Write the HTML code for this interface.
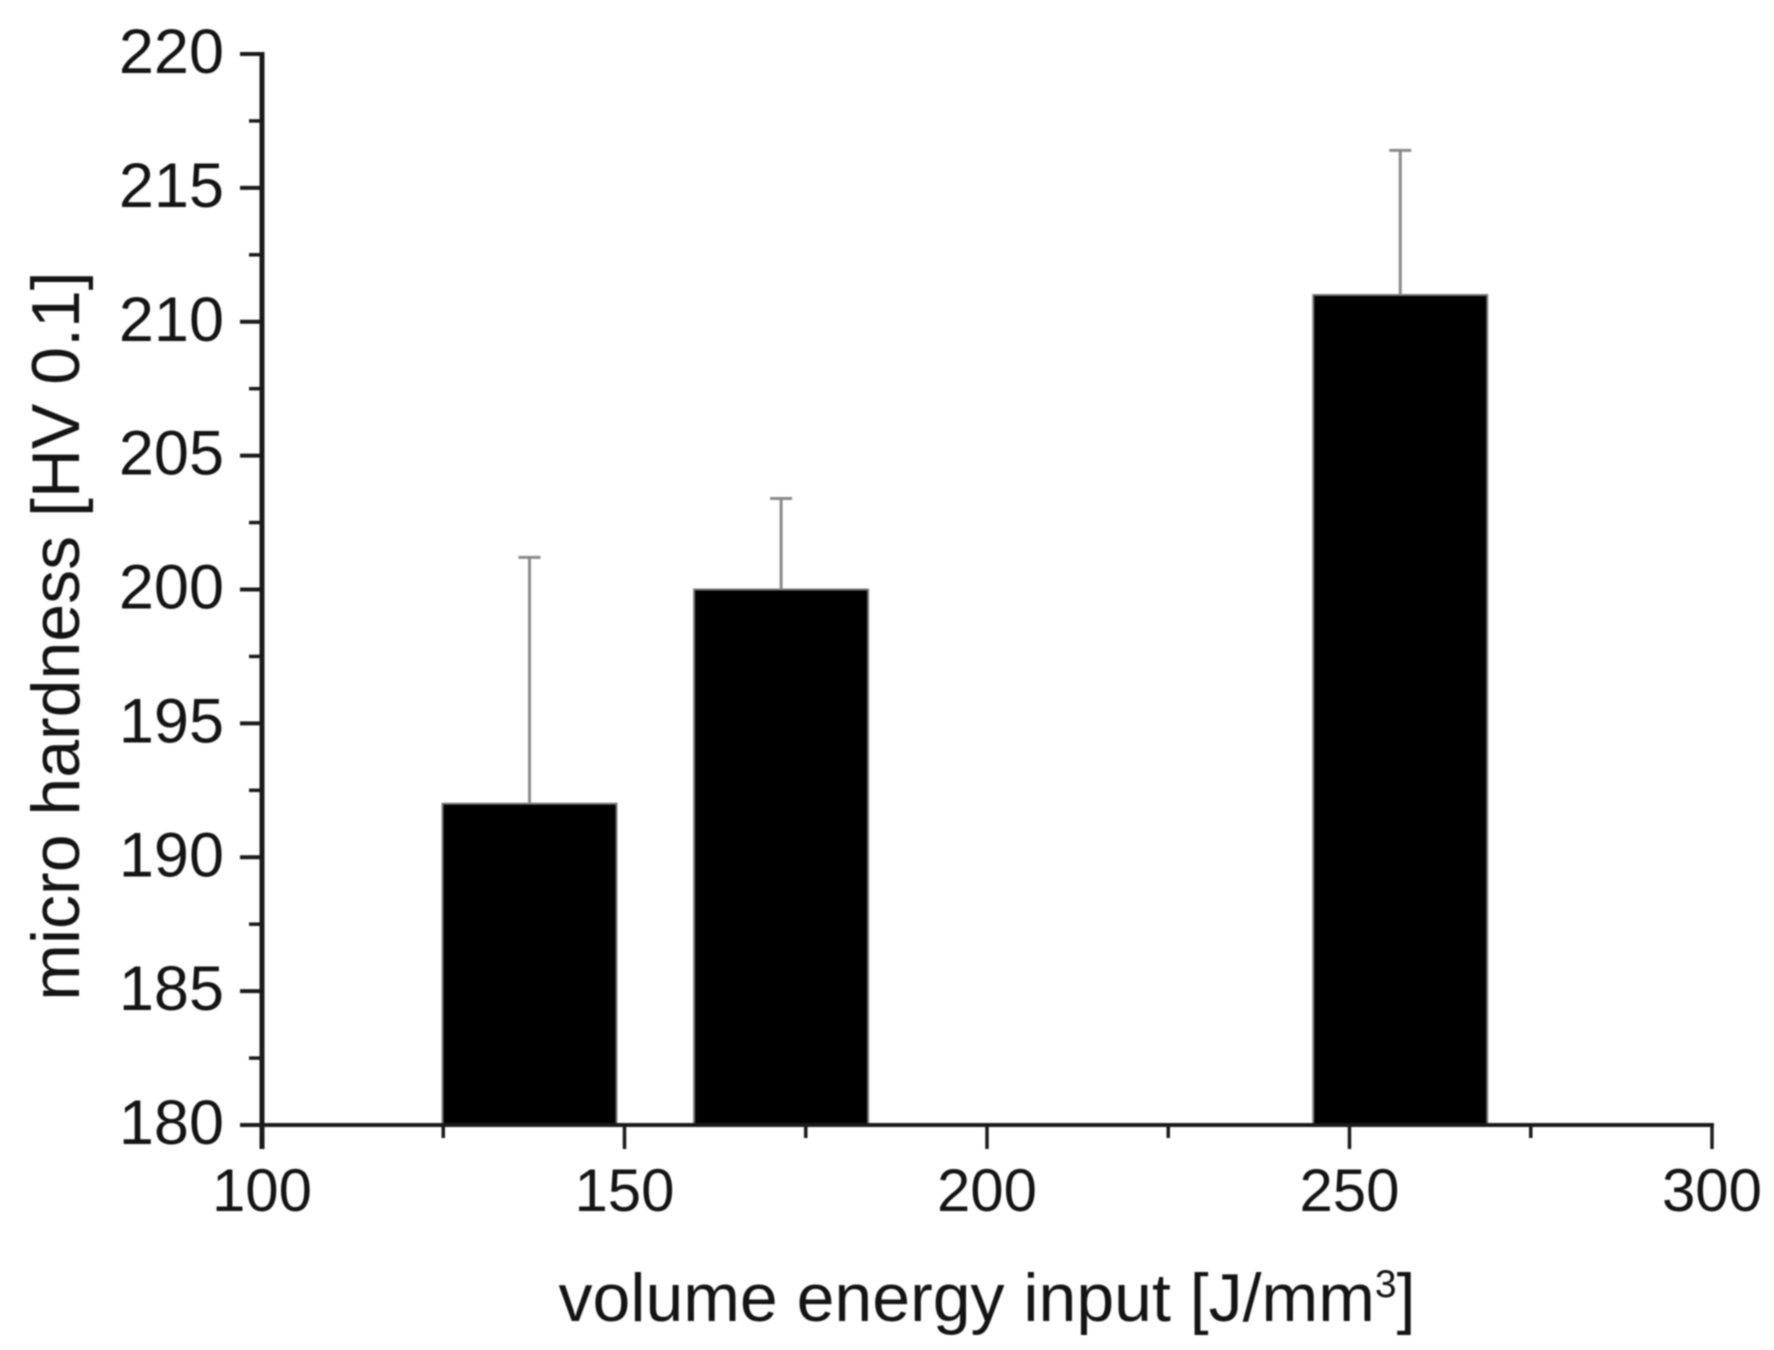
<!DOCTYPE html>
<html lang="en">
<head>
<meta charset="utf-8">
<title>Micro hardness vs volume energy input</title>
<style>
  html, body { margin: 0; padding: 0; background: #fff; }
  body { width: 1774px; height: 1350px; overflow: hidden; }
  svg { display: block; filter: blur(0.8px); }
  text { font-family: "Liberation Sans", sans-serif; fill: #141414; }
</style>
</head>
<body>
<svg id="chart" xmlns="http://www.w3.org/2000/svg" width="1774" height="1350" viewBox="0 0 1774 1350">
  <rect x="0" y="0" width="1774" height="1350" fill="#ffffff"/>
  <g id="bars"></g>
  <g id="errors"></g>
  <g id="xaxis"></g>
  <g id="yaxis"></g>
  <text x="987" y="1321" font-size="68" text-anchor="middle">volume energy input [J/mm<tspan dy="-24" font-size="39">3</tspan><tspan dy="24">]</tspan></text>
  <text transform="translate(79,636) rotate(-90)" font-size="68" text-anchor="middle">micro hardness [HV 0.1]</text>
</svg>
<script>
const categories = [136.9, 171.6, 257];
const hardness = [192, 200, 211];
const errorUp = [9.2, 3.4, 5.4];
const barWidthUnits = 24;
const xMajorTicks = [100, 150, 200, 250, 300];
const xMinorTicks = [125, 175, 225, 275];
const yMajorTicks = [180, 185, 190, 195, 200, 205, 210, 215, 220];
const yMinorTicks = [182.5, 187.5, 192.5, 197.5, 202.5, 207.5, 212.5, 217.5];

const NS = 'http://www.w3.org/2000/svg';
const xScale = v => 262 + (v - 100) * (1712 - 262) / 200;
const yScale = v => 1125 - (v - 180) * (1125 - 54) / 40;

function mk(parent, tag, attrs, txt) {
  const el = document.createElementNS(NS, tag);
  for (const k in attrs) el.setAttribute(k, attrs[k]);
  if (txt !== undefined) el.textContent = txt;
  parent.appendChild(el);
  return el;
}

const barsG = document.getElementById('bars');
const errG = document.getElementById('errors');
categories.forEach((c, i) => {
  const x0 = xScale(c - barWidthUnits / 2);
  const x1 = xScale(c + barWidthUnits / 2);
  const yt = yScale(hardness[i]);
  const bar = mk(barsG, 'rect', { x: x0, y: yt, width: x1 - x0, height: yScale(180) - yt, fill: '#000', stroke: '#777', 'stroke-width': 2 });
  
  

  const cx = xScale(c);
  const ye = yScale(hardness[i] + errorUp[i]);
  const stem = mk(errG, 'line', { x1: cx, x2: cx, y1: yt, y2: ye, stroke: '#8a8a8a', 'stroke-width': 3 });
  
  
  const cap = mk(errG, 'line', { x1: cx - 11, x2: cx + 11, y1: ye, y2: ye, stroke: '#8a8a8a', 'stroke-width': 3 });
  
  
});

const xG = document.getElementById('xaxis');
const yG = document.getElementById('yaxis');
const xLine = mk(xG, 'line', { x1: xScale(100) - 20, x2: xScale(300) + 2, y1: yScale(180), y2: yScale(180), stroke: '#1a1a1a', 'stroke-width': 4 });


const yLine = mk(yG, 'line', { x1: xScale(100), x2: xScale(100), y1: yScale(220) - 2, y2: yScale(180) + 24, stroke: '#1a1a1a', 'stroke-width': 5 });



xMajorTicks.forEach(v => {
  const x = xScale(v);
  const t = mk(xG, 'line', { x1: x, x2: x, y1: yScale(180), y2: yScale(180) + 24, stroke: '#1a1a1a', 'stroke-width': 3.5 });
  
  
  const l = mk(xG, 'text', { x: x, y: 1211, 'font-size': 60, 'text-anchor': 'middle' }, String(v));
  
  
});
xMinorTicks.forEach(v => {
  const x = xScale(v);
  const t = mk(xG, 'line', { x1: x, x2: x, y1: yScale(180), y2: yScale(180) + 13, stroke: '#1a1a1a', 'stroke-width': 3.5 });
  
  
});
yMajorTicks.forEach(v => {
  const y = yScale(v);
  const t = mk(yG, 'line', { x1: xScale(100) - 22, x2: xScale(100), y1: y, y2: y, stroke: '#1a1a1a', 'stroke-width': 4 });
  
  
  const l = mk(yG, 'text', { x: 224, y: y + 19, 'font-size': 63, 'text-anchor': 'end' }, String(v));
  
  
});
yMinorTicks.forEach(v => {
  const y = yScale(v);
  const t = mk(yG, 'line', { x1: xScale(100) - 13, x2: xScale(100), y1: y, y2: y, stroke: '#1a1a1a', 'stroke-width': 3.5 });
  
  
});
</script>
</body>
</html>
